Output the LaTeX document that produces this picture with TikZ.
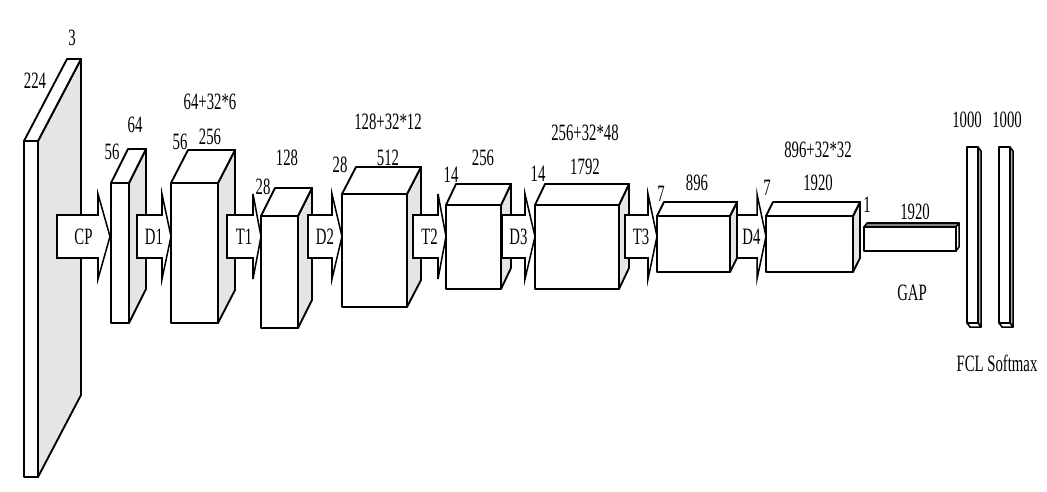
\documentclass[tikz,border=0pt]{standalone}
\usepackage{fontspec}
\setmainfont{Liberation Serif}[FakeStretch=0.63]
\usepackage{tikz}

\definecolor{sidegray}{gray}{0.9}
\definecolor{bargray}{gray}{0.5}

\tikzset{
  face/.style={draw, line width=1.6pt, line join=round},
  flow/.style={draw, fill=white, line width=1.3pt, line join=miter},
  dim/.style={font=\fontsize{20}{22}\selectfont, inner sep=0pt},
}

\begin{document}
\begin{tikzpicture}[x=0.03cm, y=-0.03cm]
    \useasboundingbox (0,0) rectangle (1047,491);

    % feature maps: x/y/w/h/dx/dy
    \foreach \x/\y/\w/\h/\dx/\dy in {24/141/14/336/43/82, 111/183/18/140/17/34,
        171/183/47/140/17/33, 261/216/37/112/14/28, 342/194/65/113/14/27,
        446/205/55/84/10/21, 535/205/84/84/10/21, 657/216/73/56/7/14,
        766/216/87/56/7/14}{
      \draw[face, fill=sidegray] (\x+\w,\y) -- ++(\dx,-\dy) -- ++(0,\h) -- ++(-\dx,\dy) -- cycle;
      \draw[face, fill=white] (\x,\y) -- ++(\dx,-\dy) -- ++(\w,0) -- ++(-\dx,\dy) -- cycle;
      \draw[face, fill=white] (\x,\y) rectangle ++(\w,\h);
    }

    % GAP vector
    \draw[face, line width=1.3pt, fill=bargray] (864,227) -- ++(3,-4) -- ++(92,0) -- ++(-3,4) -- cycle;
    \draw[face, line width=1.3pt, fill=white] (956,227) -- ++(3,-4) -- ++(0,24) -- ++(-3,4) -- cycle;
    \draw[face, line width=1.3pt, fill=white] (864,227) rectangle ++(92,24);

    % FCL and Softmax
    \foreach \x in {967, 999}{
      \draw[face, line width=1.3pt, fill=bargray!60] (\x+11,147) -- ++(3,4) -- ++(0,176) -- ++(-3,-4) -- cycle;
      \draw[face, line width=1.3pt, fill=white] (\x,323) -- ++(11,0) -- ++(3,4) -- ++(-11,0) -- cycle;
      \draw[face, line width=1.3pt, fill=white] (\x,147) rectangle ++(11,176);
    }

    % transitions between blocks
    \foreach \a/\b/\c/\t in {57/98/110/CP, 137/162/171/D1, 227/253/261/T1,
        308/332/342/D2, 413/438/446/T2, 502/525/535/D3, 625/648/657/T3,
        737/757/766/D4}{
      \draw[flow] (\a,215) -- (\b,215) -- (\b,194) -- (\c,236.5) -- (\b,279) -- (\b,258) -- (\a,258) -- cycle;
      \node[dim] (op-\t) at ({(\a+\c)/2},237) {\t};
    }

    \node[dim] (in-c)   at (72,38)   {3};
    \node[dim] (in-s)   at (35,81)   {224};
    \node[dim] (cp-s)   at (112,152) {56};
    \node[dim] (cp-c)   at (135,125) {64};
    \node[dim] (d1-s)   at (180,142) {56};
    \node[dim] (d1-c)   at (210,137) {256};
    \node[dim] (d1-g)   at (210,102) {64+32*6};
    \node[dim] (t1-s)   at (263,187) {28};
    \node[dim] (t1-c)   at (287,158) {128};
    \node[dim] (d2-s)   at (340,165) {28};
    \node[dim] (d2-c)   at (388,158) {512};
    \node[dim] (d2-g)   at (388,122) {128+32*12};
    \node[dim] (t2-s)   at (451,175) {14};
    \node[dim] (t2-c)   at (483,158) {256};
    \node[dim] (d3-s)   at (538,174) {14};
    \node[dim] (d3-c)   at (585,167) {1792};
    \node[dim] (d3-g)   at (585,133) {256+32*48};
    \node[dim] (t3-s)   at (661,194) {7};
    \node[dim] (t3-c)   at (697,183) {896};
    \node[dim] (d4-s)   at (767,188) {7};
    \node[dim] (d4-c)   at (818,183) {1920};
    \node[dim] (d4-g)   at (818,150) {896+32*32};
    \node[dim] (gap-s)  at (867,205) {1};
    \node[dim] (gap-c)  at (915,212) {1920};
    \node[dim] (gap)    at (912,293) {GAP};
    \node[dim] (fcl-c)  at (967,120) {1000};
    \node[dim] (soft-c) at (1007,120) {1000};
    \node[dim] (out)    at (997,363) {FCL Softmax};

\end{tikzpicture}
\end{document}
